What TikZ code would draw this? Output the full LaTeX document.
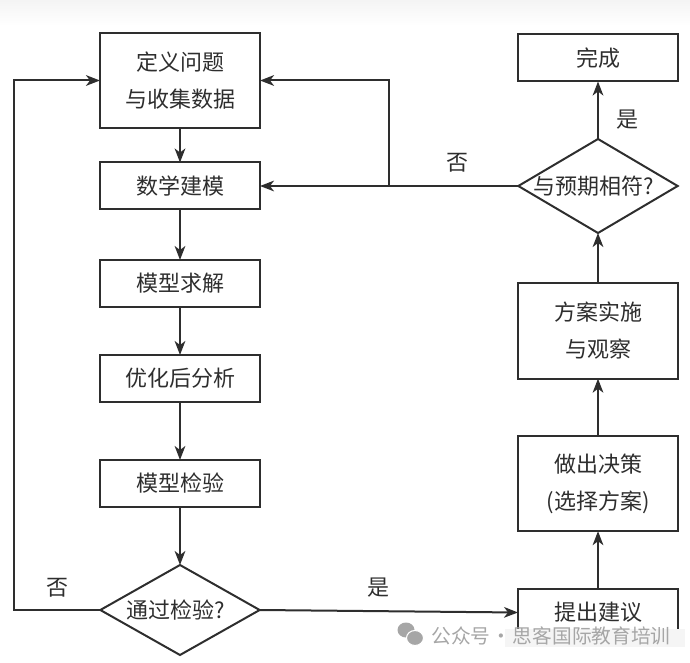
\documentclass[tikz,border=0pt]{standalone}
\usepackage{fontspec}
\setmainfont{Noto Sans CJK SC}
\usetikzlibrary{arrows.meta,shapes.geometric}
\definecolor{inkgray}{HTML}{2E2E2E}
\definecolor{marksgray}{HTML}{A6A6A6}
\definecolor{topgray}{HTML}{F4F4F4}
\definecolor{smeargray}{HTML}{F5F5F5}
\newcommand{\zerowide}[1]{\makebox[0pt]{\kern-6.5pt #1}}
\tikzset{
  flowbox/.style={draw=inkgray,line width=1.5pt,fill=white,outer sep=0pt,inner sep=0pt,
    text=inkgray,align=center,font=\fontsize{16.5}{27.75}\selectfont,minimum width=120pt},
  lowbox/.style={flowbox,minimum height=35.25pt},
  tallbox/.style={flowbox,minimum height=71.5pt},
  checkbox/.style={diamond,draw=inkgray,line width=1.5pt,outer sep=0pt,inner sep=0pt,aspect=1.7,
    text=inkgray,font=\fontsize{16.5}{20}\selectfont,minimum width=119.5pt},
  flowline/.style={draw=inkgray,line width=1.5pt},
  flowarrow/.style={flowline,-{Stealth[length=10.5pt,width=8pt,inset=3pt]}},
  flowlabel/.style={inner sep=0.75pt,text=inkgray,font=\fontsize{16.5}{20}\selectfont},
  marktext/.style={inner sep=0pt,text=marksgray,font=\fontsize{14.8}{17}\selectfont}
}
\begin{document}
\begin{tikzpicture}[x=0.75pt,y=0.75pt,yscale=-1,xscale=1]
\useasboundingbox (0,0) rectangle (690,663);

%Shape: top strip
\fill [top color=topgray,bottom color=white] (0,0) rectangle (690,26);

%Left column
\node [tallbox] (define) at (180,80.5) {定义问题\\与收集数据};
\node [lowbox] (modeling) at (180,186) {数学建模};
\node [lowbox] (solving) at (180,283.5) {模型求解};
\node [lowbox] (analysis) at (180,378.5) {优化后分析};
\node [lowbox] (testing) at (180,483.5) {模型检验};
\node [checkbox,minimum height=67.5pt] (passed) at (180,610) {\zerowide{通过检验?}};

%Right column
\node [lowbox] (finish) at (598,58) {完成};
\node [checkbox,minimum height=70.5pt] (expected) at (598,186) {\zerowide{与预期相符?}};
\node [tallbox] (apply) at (598,331) {方案实施\\与观察};
\node [tallbox] (decide) at (598,483.5) {做出决策\\(选择方案)};
\node [lowbox] (advise) at (598,612.5) {提出建议};

%Corner points
\coordinate (loopleft) at (14,80.5);
\coordinate (branch) at (389,186);
\coordinate (branchtop) at (389,80.5);

%Straight Lines
\draw [flowarrow] (define) -- (modeling);
\draw [flowarrow] (modeling) -- (solving);
\draw [flowarrow] (solving) -- (analysis);
\draw [flowarrow] (analysis) -- (testing);
\draw [flowarrow] (testing) -- (passed);
\draw [flowarrow] (passed.east) -- (advise.west);
\draw [flowarrow] (advise) -- (decide);
\draw [flowarrow] (decide) -- (apply);
\draw [flowarrow] (apply) -- (expected);
\draw [flowarrow] (expected) -- (finish);
\draw [flowarrow] (expected.west) -- (modeling.east);
\draw [flowarrow] (branch) -- (branchtop) -- (define.east);
\draw [flowarrow] (passed.west) -| (loopleft) -- (define.west);

% Text Node
\node [flowlabel] (nomodel) at (457,163) {否};
\node [flowlabel] (yesdone) at (627,120) {是};
\node [flowlabel] (noloop) at (57,588) {否};
\node [flowlabel] (yesadvise) at (378,588) {是};

%Watermark
\fill [smeargray] (505,629) rectangle (685,647);
\fill [marksgray] (406,630) ellipse (8.5 and 7.5);
\fill [marksgray,draw=white,line width=0.8pt] (415,638) ellipse (8.5 and 7.5);
\node [marktext,anchor=west] (account) at (431,636) {公众号\kern1pt·\kern1pt 思客国际教育培训};
\end{tikzpicture}
\end{document}
